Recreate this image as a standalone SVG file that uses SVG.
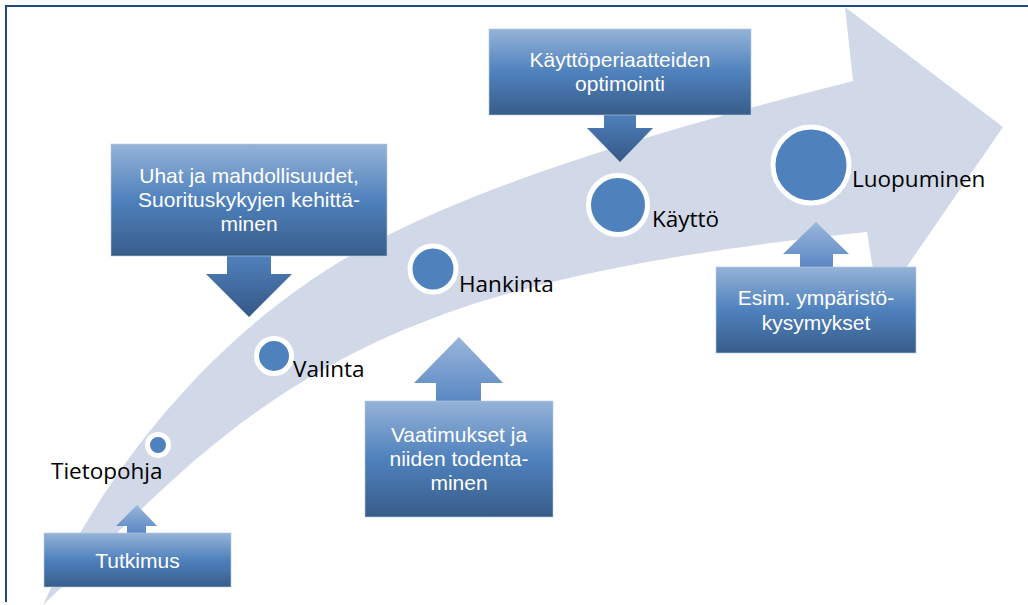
<svg xmlns="http://www.w3.org/2000/svg" width="1028" height="605" viewBox="0 0 1028 605">
<defs>
<linearGradient id="boxGrad" x1="0" y1="0" x2="0" y2="1">
<stop offset="0" stop-color="#95B3D7"/>
<stop offset="0.5" stop-color="#4F81BD"/>
<stop offset="1" stop-color="#385D8A"/>
</linearGradient>
<linearGradient id="upGrad" x1="0" y1="0" x2="0" y2="1">
<stop offset="0" stop-color="#9AB6DA"/>
<stop offset="1" stop-color="#5A88C4"/>
</linearGradient>
<linearGradient id="downGrad" x1="0" y1="0" x2="0" y2="1">
<stop offset="0" stop-color="#4F80BC"/>
<stop offset="1" stop-color="#355886"/>
</linearGradient>
</defs>
<style>
.box{fill:url(#boxGrad);stroke:#B9CCE4;stroke-width:1;stroke-opacity:0.6}
.up{fill:url(#upGrad)}
.down{fill:url(#downGrad)}
.dot{fill:#4F81BD;stroke:#FFFFFF;stroke-width:5}
.lbl{font-family:"Open Sans","Noto Sans",sans-serif;font-size:22.5px;fill:#000000}
.bt{font-family:"Liberation Sans",Arial,sans-serif;font-size:21px;fill:#FFFFFF;text-anchor:middle}
</style>
<rect width="1028" height="605" fill="#FFFFFF"/>
<path d="M6,602 V6 H1028" fill="none" stroke="#1F497D" stroke-width="2"/>
<path id="band" d="M43,605 C113,452 230,318 373,243 C505,172 720,115 853,81 L845,7 L1003,127 L879,307 L867,232 C727,246 567,270 447,313 C247,385 157,497 43,605 Z" fill="#D1D9E8"/>
<g id="tietopohja">
<circle class="dot" cx="158" cy="445" r="10.5"/>
<text class="lbl" x="51" y="479">Tietopohja</text>
</g>
<g id="valinta">
<circle class="dot" cx="274" cy="356" r="17.5"/>
<text class="lbl" x="293" y="377">Valinta</text>
</g>
<g id="hankinta">
<circle class="dot" cx="433" cy="269" r="23"/>
<text class="lbl" x="459" y="292">Hankinta</text>
</g>
<g id="kaytto">
<circle class="dot" cx="618" cy="205" r="29.5"/>
<text class="lbl" x="652" y="227">Käyttö</text>
</g>
<g id="luopuminen">
<circle class="dot" cx="811" cy="165" r="38"/>
<text class="lbl" x="852" y="187">Luopuminen</text>
</g>
<g id="connectors">
<path class="up" d="M137,505 L157,526 L146,526 L146,533 L127,533 L127,526 L116,526 Z"/>
<path class="down" d="M227,256 L271,256 L271,274 L292,274 L249,317 L206,274 L227,274 Z"/>
<path class="up" d="M459,337 L503,383 L481,383 L481,401 L436,401 L436,383 L414,383 Z"/>
<path class="down" d="M604,115 L636,115 L636,128 L653,128 L620,162 L587,128 L604,128 Z"/>
<path class="up" d="M816,222 L849,254 L833,254 L833,267 L800,267 L800,254 L783,254 Z"/>
</g>
<g id="tutkimus">
<rect class="box" x="44" y="533" width="187" height="54"/>
<text class="bt" x="137.5" y="568">Tutkimus</text>
</g>
<g id="uhat">
<rect class="box" x="111" y="144" width="276" height="112"/>
<text class="bt" x="249" y="183">Uhat ja mahdollisuudet,</text>
<text class="bt" x="249" y="207">Suorituskykyjen kehittä-</text>
<text class="bt" x="249" y="231">minen</text>
</g>
<g id="vaatimukset">
<rect class="box" x="365" y="401" width="188" height="116"/>
<text class="bt" x="459" y="442">Vaatimukset ja</text>
<text class="bt" x="459" y="466">niiden todenta-</text>
<text class="bt" x="459" y="490">minen</text>
</g>
<g id="kayttoperiaatteet">
<rect class="box" x="489" y="29" width="262" height="86"/>
<text class="bt" x="620" y="67">Käyttöperiaatteiden</text>
<text class="bt" x="620" y="91">optimointi</text>
</g>
<g id="esim">
<rect class="box" x="716" y="267" width="200" height="86"/>
<text class="bt" x="816" y="305">Esim. ympäristö-</text>
<text class="bt" x="816" y="330">kysymykset</text>
</g>
</svg>
